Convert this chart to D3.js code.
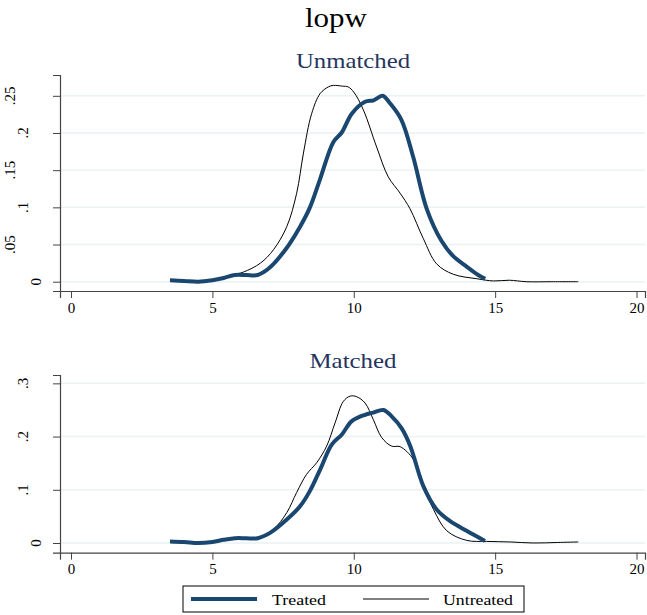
<!DOCTYPE html>
<html>
<head>
<meta charset="utf-8">
<script src="https://cdn.jsdelivr.net/npm/d3@7"></script>
<style>
  body { margin: 0; background: #fff; }
  text { font-family: "Liberation Serif", "Times New Roman", serif; }
</style>
</head>
<body>
<script>
// kernel density of lopw, [x, density]
let unmatchedTreated = [[3.5,0.002],[4.0,0.001],[4.5,0.0],[5.0,0.002],[5.4,0.005],[5.8,0.009],[6.2,0.009],[6.6,0.009],
  [7.0,0.018],[7.6,0.044],[8.1,0.074],[8.45,0.10],[8.8,0.137],[9.28,0.188],[9.58,0.201],[9.93,0.226],[10.4,0.242],
  [10.7,0.244],[11.02,0.25],[11.28,0.24],[11.68,0.218],[12.1,0.168],[12.58,0.098],[13.1,0.055],[13.5,0.035],
  [14.0,0.020],[14.4,0.009],[14.65,0.004]];
let unmatchedUntreated = [[3.5,0.002],[4.0,0.001],[4.5,0.001],[5.0,0.003],[5.3,0.005],[5.7,0.009],[6.1,0.013],[6.7,0.025],
  [7.16,0.043],[7.63,0.074],[7.98,0.119],[8.22,0.173],[8.51,0.226],[8.81,0.253],[9.1,0.262],[9.28,0.264],[9.6,0.263],
  [9.8,0.262],[10.0,0.255],[10.34,0.231],[10.81,0.181],[11.22,0.141],[11.64,0.119],[11.99,0.098],[12.46,0.058],
  [12.93,0.024],[13.52,0.010],[14.35,0.004],[14.94,0.001],[15.5,0.002],[16.1,0.0],[17.0,0.0],[17.94,0.0]];
let matchedTreated = [[3.5,0.003],[4.0,0.002],[4.5,0.0],[5.0,0.002],[5.4,0.006],[5.8,0.009],[6.2,0.009],[6.6,0.009],
  [7.04,0.019],[7.63,0.044],[8.1,0.069],[8.45,0.098],[8.81,0.138],[9.22,0.185],[9.58,0.204],[9.93,0.229],[10.4,0.241],
  [10.69,0.245],[11.05,0.25],[11.34,0.238],[11.7,0.215],[12.0,0.182],[12.46,0.107],[12.93,0.063],[13.41,0.041],
  [13.99,0.023],[14.64,0.004]];
let matchedUntreated = [[3.5,0.003],[4.0,0.002],[4.5,0.0],[5.0,0.002],[5.5,0.006],[6.0,0.009],[6.57,0.009],[7.16,0.026],
  [7.63,0.057],[7.98,0.095],[8.33,0.129],[8.69,0.151],[9.04,0.182],[9.34,0.226],[9.63,0.266],[9.87,0.276],[10.1,0.275],
  [10.4,0.263],[10.69,0.232],[10.99,0.198],[11.34,0.182],[11.64,0.181],[12.11,0.157],[12.46,0.107],[12.82,0.063],
  [13.29,0.023],[13.99,0.005],[14.7,0.003],[15.53,0.002],[16.35,0.0],[17.2,0.001],[17.94,0.002]];

let xTicks = [0, 5, 10, 15, 20];
let yTicksTop = [0, 0.05, 0.1, 0.15, 0.2, 0.25];
let yTicksBottom = [0, 0.1, 0.2, 0.3];
let legendLabels = ["Treated", "Untreated"];

let width = 647, height = 615;
let navy = "#1a476f";

let svg = d3.select("body").append("svg").attr("width", width).attr("height", height);

svg.append("text").attr("x", 336).attr("y", 27).attr("text-anchor", "middle")
  .attr("font-size", 28).attr("textLength", 62).attr("lengthAdjust", "spacingAndGlyphs").text("lopw");

// format like stata: .25, .1, 0
let fmt = (d) => d === 0 ? "0" : String(d).replace(/^0/, "");

function panel(title, titleLen, top, bottom, yDomain, yTicks, treated, untreated) {
  let x = d3.scaleLinear().domain([-0.39, 20.3]).range([60, 645]);
  let y = d3.scaleLinear().domain(yDomain).range([bottom, top]);

  let g = svg.append("g");

  g.append("text").attr("x", 353).attr("y", top - 7).attr("text-anchor", "middle")
    .attr("font-size", 21).attr("fill", "#24345e")
    .attr("textLength", titleLen).attr("lengthAdjust", "spacingAndGlyphs").text(title);

  // gridlines
  g.selectAll(".grid").data(yTicks).enter().append("line")
    .attr("x1", 60).attr("x2", 645)
    .attr("y1", (d) => y(d)).attr("y2", (d) => y(d))
    .attr("stroke", "#eaf2f3").attr("stroke-width", 1.5);

  // lines
  let line = d3.line().x((d) => x(d[0])).y((d) => y(d[1])).curve(d3.curveCatmullRom.alpha(0.5));
  g.append("path").attr("d", line(untreated)).attr("fill", "none")
    .attr("stroke", "#000").attr("stroke-width", 1);
  g.append("path").attr("d", line(treated)).attr("fill", "none")
    .attr("stroke", navy).attr("stroke-width", 4).attr("stroke-linejoin", "round");

  // x axis
  let xAxis = d3.axisBottom(x).tickValues(xTicks).tickSize(7).tickPadding(4).tickFormat(d3.format("d"));
  let gx = g.append("g").attr("transform", "translate(0," + bottom + ")").call(xAxis);
  gx.select(".domain").attr("stroke", "#444").attr("stroke-width", 1.2);
  gx.selectAll(".tick line").attr("stroke", "#444");
  gx.selectAll("text").attr("font-size", 15).attr("font-family", "Liberation Serif").attr("fill", "#000");

  // y axis
  let yAxis = d3.axisLeft(y).tickValues(yTicks).tickSize(7).tickFormat("");
  let gy = g.append("g").attr("transform", "translate(60,0)").call(yAxis);
  gy.select(".domain").attr("stroke", "#444").attr("stroke-width", 1.2);
  gy.selectAll(".tick line").attr("stroke", "#444");

  // rotated y labels
  g.selectAll(".ylab").data(yTicks).enter().append("text")
    .attr("transform", (d) => "translate(" + (54 - 13 * fmt(d).length) + "," + y(d) + ") rotate(-90)")
    .attr("text-anchor", "middle").attr("font-size", 15).attr("fill", "#000")
    .text((d) => fmt(d));
}

panel("Unmatched", 114, 75, 291, [-0.0125, 0.278], yTicksTop, unmatchedTreated, unmatchedUntreated);
panel("Matched", 87, 375, 552.7, [-0.0182, 0.3157], yTicksBottom, matchedTreated, matchedUntreated);

// legend
let lg = svg.append("g");
lg.append("rect").attr("x", 183).attr("y", 586).attr("width", 341).attr("height", 26)
  .attr("fill", "#fff").attr("stroke", "#000").attr("stroke-width", 1);
let legendItems = [
  {label: legendLabels[0], x0: 191, color: navy, w: 4, tx: 272, len: 54},
  {label: legendLabels[1], x0: 363, color: "#000", w: 1, tx: 443, len: 70}
];
legendItems.forEach((d) => {
  lg.append("line").attr("x1", d.x0).attr("x2", d.x0 + 66).attr("y1", 599).attr("y2", 599)
    .attr("stroke", d.color).attr("stroke-width", d.w);
  lg.append("text").attr("x", d.tx).attr("y", 604.5).attr("font-size", 15)
    .attr("textLength", d.len).attr("lengthAdjust", "spacingAndGlyphs").text(d.label);
});
</script>
</body>
</html>
